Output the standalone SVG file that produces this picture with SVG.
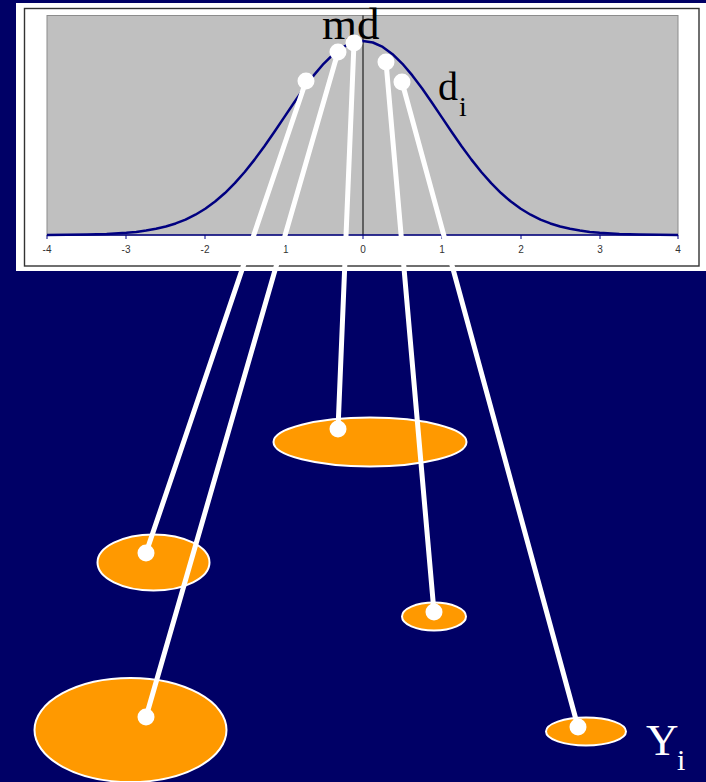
<svg xmlns="http://www.w3.org/2000/svg" width="706" height="782" viewBox="0 0 706 782">
<style>
.conn{stroke:#FFFFFF;stroke-width:5;fill:none;stroke-linecap:round}
.dot{fill:#FFFFFF}
.blob{fill:#FF9900;stroke:#FFFFFF;stroke-width:2}
.tick{font-family:"Liberation Sans",Arial,sans-serif;font-size:10px;fill:#333333;text-anchor:middle}
.lbl{font-family:"Liberation Serif","Times New Roman",serif;fill:#000000}
.lblw{font-family:"Liberation Serif","Times New Roman",serif;fill:#FFFFFF}
</style>
<rect x="0" y="0" width="706" height="782" fill="#000066"/>
<g id="chart">
<rect x="16" y="3" width="690" height="268" fill="#FFFFFF"/>
<rect x="24.5" y="8.5" width="674.5" height="257.5" fill="none" stroke="#333333" stroke-width="1.4"/>
<rect x="47" y="15.5" width="631" height="219.5" fill="#C0C0C0" stroke="#8C8C8C" stroke-width="1"/>
<line x1="363" y1="15.5" x2="363" y2="235" stroke="#000000" stroke-width="1"/>
<path d="M47,234.93 L67.22,234.83 L86.94,234.58 L106.66,234.01 L126.38,232.84 L136.23,231.89 L146.09,230.58 L155.95,228.81 L165.81,226.48 L175.67,223.44 L185.53,219.57 L195.39,214.71 L205.25,208.74 L215.11,201.55 L224.97,193.04 L234.83,183.19 L244.69,172.02 L254.55,159.62 L264.41,146.18 L274.27,131.97 L284.13,117.33 L293.98,102.7 L303.84,88.56 L313.7,75.42 L323.56,63.79 L333.42,54.17 L343.28,46.97 L353.14,42.51 L363,41 L372.86,42.51 L382.72,46.97 L392.58,54.17 L402.44,63.79 L412.3,75.42 L422.16,88.56 L432.02,102.7 L441.88,117.33 L451.73,131.97 L461.59,146.18 L471.45,159.62 L481.31,172.02 L491.17,183.19 L501.03,193.04 L510.89,201.55 L520.75,208.74 L530.61,214.71 L540.47,219.57 L550.33,223.44 L560.19,226.48 L570.05,228.81 L579.91,230.58 L589.77,231.89 L599.63,232.84 L619.34,234.01 L639.06,234.58 L658.78,234.83 L678,234.93" fill="none" stroke="#000080" stroke-width="2.5" stroke-linejoin="round"/>
<line x1="47" y1="235" x2="678" y2="235" stroke="#000080" stroke-width="1.5"/>
<g stroke="#000080" stroke-width="1">
<line x1="47" y1="235" x2="47" y2="239"/>
<line x1="126" y1="235" x2="126" y2="239"/>
<line x1="205" y1="235" x2="205" y2="239"/>
<line x1="284" y1="235" x2="284" y2="239"/>
<line x1="363" y1="235" x2="363" y2="239"/>
<line x1="442" y1="235" x2="442" y2="239"/>
<line x1="521" y1="235" x2="521" y2="239"/>
<line x1="600" y1="235" x2="600" y2="239"/>
<line x1="678" y1="235" x2="678" y2="239"/>
</g>
<text class="tick" x="47" y="253">-4</text>
<text class="tick" x="126" y="253">-3</text>
<text class="tick" x="205" y="253">-2</text>
<text class="tick" x="284" y="253">-1</text>
<text class="tick" x="363" y="253">0</text>
<text class="tick" x="442" y="253">1</text>
<text class="tick" x="521" y="253">2</text>
<text class="tick" x="600" y="253">3</text>
<text class="tick" x="678" y="253">4</text>
<text class="lbl" x="322" y="39" font-size="45">md</text>
<text class="lbl" x="438" y="100" font-size="40">d</text>
<text class="lbl" x="459" y="116" font-size="28">i</text>
</g>
<g id="node-a"><ellipse class="blob" cx="370" cy="442" rx="96.5" ry="24.5"/></g>
<g id="node-b"><ellipse class="blob" cx="153.5" cy="562.5" rx="56" ry="28"/></g>
<g id="node-c"><ellipse class="blob" cx="434" cy="616.5" rx="32" ry="14"/></g>
<g id="node-d"><ellipse class="blob" cx="130.5" cy="730" rx="96" ry="52"/></g>
<g id="node-e"><ellipse class="blob" cx="586" cy="731.5" rx="40" ry="14"/></g>
<g id="connectors">
<line class="conn" x1="306" y1="81" x2="146" y2="553"/>
<line class="conn" x1="338" y1="52" x2="146" y2="717"/>
<line class="conn" x1="354" y1="43" x2="338" y2="429"/>
<line class="conn" x1="386" y1="62" x2="434" y2="612"/>
<line class="conn" x1="402" y1="82" x2="578" y2="727"/>
<circle class="dot" cx="306" cy="81" r="8.5"/>
<circle class="dot" cx="338" cy="52" r="8.5"/>
<circle class="dot" cx="354" cy="43" r="8.5"/>
<circle class="dot" cx="386" cy="62" r="8.5"/>
<circle class="dot" cx="402" cy="82" r="8.5"/>
<circle class="dot" cx="146" cy="553" r="8.5"/>
<circle class="dot" cx="146" cy="717" r="8.5"/>
<circle class="dot" cx="338" cy="429" r="8.5"/>
<circle class="dot" cx="434" cy="612" r="8.5"/>
<circle class="dot" cx="578" cy="727" r="8.5"/>
</g>
<g id="label-y">
<text class="lblw" x="646" y="755" font-size="45">Y</text>
<text class="lblw" x="677" y="770" font-size="30">i</text>
</g>
</svg>
